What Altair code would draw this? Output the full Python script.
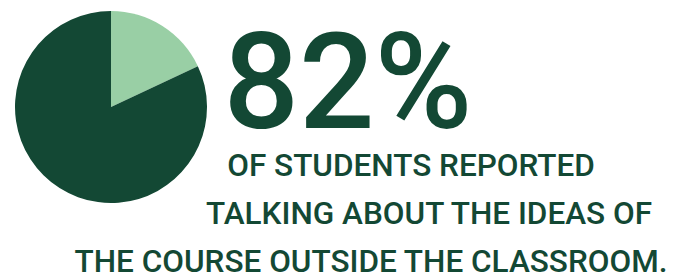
import altair as alt
import pandas as pd

categories = ["Did not report", "Reported talking about ideas"]
values = [18, 82]
order = [0, 1]
colors = ["#99cfa5", "#134834"]

headline = "82%"
lines = ["OF STUDENTS REPORTED", "TALKING ABOUT THE IDEAS OF", "THE COURSE OUTSIDE THE CLASSROOM."]

pie_df = pd.DataFrame({"category": categories, "value": values, "order": order})

dark = "#134834"

pie = alt.Chart(pie_df).mark_arc(radius=96, stroke=None).encode(
    theta=alt.Theta("value:Q", stack=True),
    order=alt.Order("order:Q"),
    color=alt.Color("category:N", scale=alt.Scale(domain=categories, range=colors), legend=None),
    x=alt.value(103),
    y=alt.value(99),
)

big = alt.Chart(pd.DataFrame({"t": [headline]})).mark_text(
    font="Roboto", fontSize=133, fontWeight=500, color=dark, align="center", baseline="alphabetic"
).encode(text="t:N", x=alt.value(340), y=alt.value(120))

line_specs = [(lines[0], 403, 168), (lines[1], 421, 216), (lines[2], 363, 264)]
text_layers = []
for txt, xc, yb in line_specs:
    text_layers.append(
        alt.Chart(pd.DataFrame({"t": [txt]})).mark_text(
            font="Roboto", fontSize=31.5, fontWeight=500, color=dark, align="center", baseline="alphabetic"
        ).encode(text="t:N", x=alt.value(xc), y=alt.value(yb))
    )

chart = alt.layer(pie, big, *text_layers).properties(
    width=661, height=268, padding=0, autosize=alt.AutoSizeParams(type="none")
).configure_view(stroke=None)

chart.save("out.html", embed_options={"renderer": "svg", "actions": False})
